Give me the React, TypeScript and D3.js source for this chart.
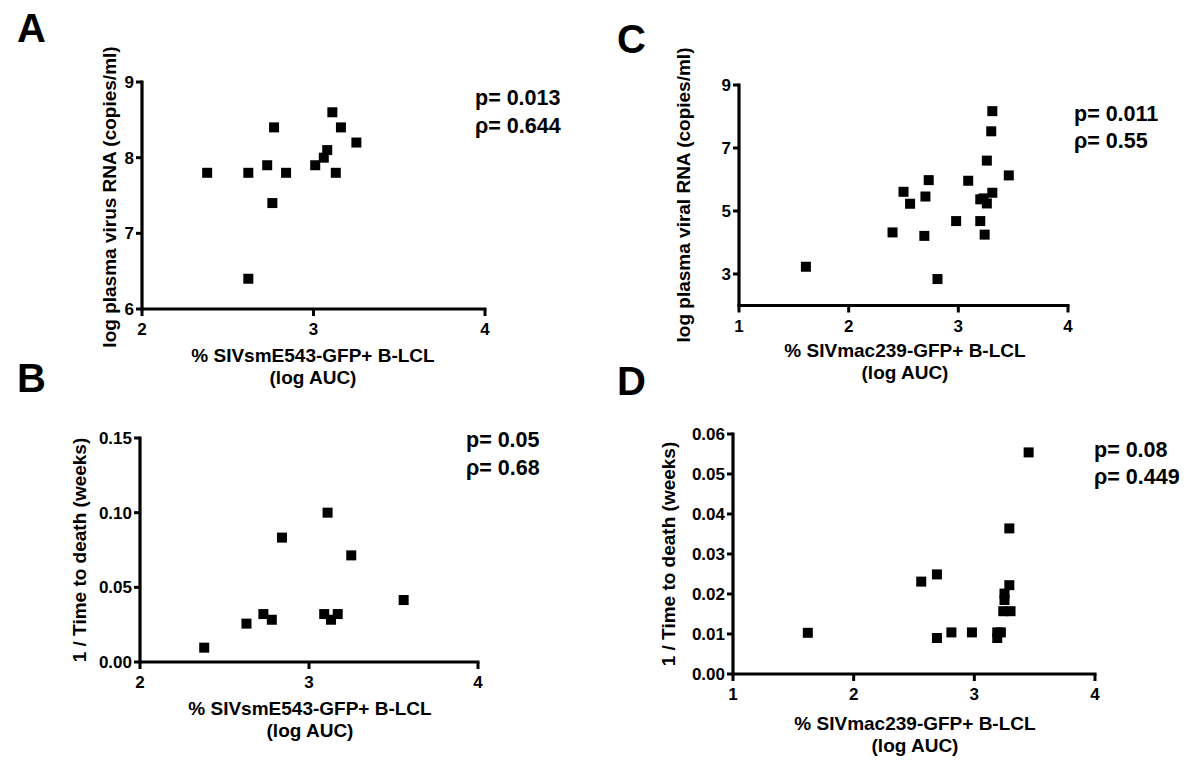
import React from "react";
import * as d3 from "d3";

// ---------- DATA ----------
// Panel A: SIVsmE543 vs log plasma virus RNA
const aX = [2.38, 2.62, 2.62, 2.73, 2.77, 2.76, 2.84, 3.01, 3.06, 3.08, 3.11, 3.13, 3.16, 3.25];
const aY = [7.8, 7.8, 6.4, 7.9, 8.4, 7.4, 7.8, 7.9, 8.0, 8.1, 8.6, 7.8, 8.4, 8.2];
// Panel B: SIVsmE543 vs 1/time to death
const bX = [2.38, 2.63, 2.73, 2.78, 2.84, 3.09, 3.11, 3.13, 3.17, 3.25, 3.56];
const bY = [0.0096, 0.0257, 0.0321, 0.0283, 0.0833, 0.0321, 0.1, 0.0283, 0.0321, 0.0714, 0.0415];
// Panel C: SIVmac239 vs log plasma viral RNA
const cX = [1.61, 2.4, 2.5, 2.56, 2.7, 2.69, 2.73, 2.81, 2.98, 3.09, 3.2, 3.2, 3.23, 3.26, 3.24, 3.26, 3.3, 3.31, 3.31, 3.46];
const cY = [3.23, 4.32, 5.61, 5.23, 5.46, 4.21, 5.98, 2.84, 4.68, 5.96, 4.68, 5.37, 5.4, 5.24, 4.25, 6.6, 7.53, 8.17, 5.58, 6.13];
// Panel D: SIVmac239 vs 1/time to death
const dX = [1.62, 2.56, 2.69, 2.69, 2.81, 2.98, 3.19, 3.19, 3.22, 3.24, 3.3, 3.25, 3.25, 3.29, 3.29, 3.45];
const dY = [0.0103, 0.0231, 0.0249, 0.009, 0.0104, 0.0104, 0.009, 0.0104, 0.0104, 0.0157, 0.0157, 0.0185, 0.0201, 0.0222, 0.0364, 0.0554];

const panelLetters = ["A", "B", "C", "D"];
const yTitles = [
  "log plasma virus RNA (copies/ml)",
  "1 / Time to death (weeks)",
  "log plasma viral RNA (copies/ml)",
  "1 / Time to death (weeks)",
];
const xTitles = [
  "% SIVsmE543-GFP+ B-LCL",
  "% SIVsmE543-GFP+ B-LCL",
  "% SIVmac239-GFP+ B-LCL",
  "% SIVmac239-GFP+ B-LCL",
];
const xTitle2 = "(log AUC)";
const pTexts = ["p= 0.013", "p= 0.05", "p= 0.011", "p= 0.08"];
const rhoTexts = ["\u03C1= 0.644", "\u03C1= 0.68", "\u03C1= 0.55", "\u03C1= 0.449"];
const xDomains = [[2, 4], [2, 4], [1, 4], [1, 4]];
const yDomains = [[6, 9], [0, 0.15], [2, 9], [0, 0.06]];
const xTickVals = [[2, 3, 4], [2, 3, 4], [1, 2, 3, 4], [1, 2, 3, 4]];
const yTickVals = [[6, 7, 8, 9], [0, 0.05, 0.1, 0.15], [3, 5, 7, 9], [0, 0.01, 0.02, 0.03, 0.04, 0.05, 0.06]];
const yFormats = ["d", ".2f", "d", ".2f"];

// ---------- LAYOUT ----------
const layouts = [
  { x0: 142, x1: 485, y0: 309, y1: 82, letter: [17, 42], yt: [109, 197], xt: [313, 355, 377], stat: [475, 105, 133] },
  { x0: 140, x1: 478, y0: 662, y1: 438, letter: [17, 392], yt: [79, 550], xt: [310, 708, 730], stat: [466, 447, 475] },
  { x0: 739, x1: 1068, y0: 305.5, y1: 85, letter: [617, 53], yt: [683, 195], xt: [905, 350, 372], stat: [1074, 121, 148] },
  { x0: 733, x1: 1095, y0: 674, y1: 434, letter: [617, 395], yt: [668, 554], xt: [915, 723, 745], stat: [1094, 457, 484] },
];
const datasets = [[aX, aY], [bX, bY], [cX, cY], [dX, dY]];

const FONT = "'Liberation Sans', Arial, Helvetica, sans-serif";
const TICK = 6;
const SQ = 10;

function Panel({ i }: { i: number }) {
  const L = layouts[i];
  const x = d3.scaleLinear().domain(xDomains[i]).range([L.x0, L.x1]);
  const y = d3.scaleLinear().domain(yDomains[i]).range([L.y0, L.y1]);
  const fmt = d3.format(yFormats[i]);
  const [xs, ys] = datasets[i];
  const pts = xs.map((v, k) => [v, ys[k]]);
  return (
    <g fontFamily={FONT} fontWeight="bold" fill="#000">
      <text x={L.letter[0]} y={L.letter[1]} fontSize={40}>{panelLetters[i]}</text>
      {/* axes */}
      <line x1={L.x0} x2={L.x0} y1={y.range()[0] + 1.5} y2={y.range()[1] - 1.5} stroke="#000" strokeWidth={3.2} />
      <line x1={L.x0 - 1.5} x2={L.x1 + 1.5} y1={L.y0} y2={L.y0} stroke="#000" strokeWidth={3.2} />
      {yTickVals[i].map((t) => (
        <g key={"y" + t}>
          <line x1={L.x0 - TICK} x2={L.x0} y1={y(t)} y2={y(t)} stroke="#000" strokeWidth={3} />
          <text x={L.x0 - TICK - 2} y={y(t)} dy="0.36em" textAnchor="end" fontSize={17}>{fmt(t)}</text>
        </g>
      ))}
      {xTickVals[i].map((t) => (
        <g key={"x" + t}>
          <line x1={x(t)} x2={x(t)} y1={L.y0} y2={L.y0 + TICK + 1} stroke="#000" strokeWidth={3} />
          <text x={x(t)} y={L.y0 + TICK + 20} textAnchor="middle" fontSize={17}>{t}</text>
        </g>
      ))}
      {/* titles */}
      <text transform={`translate(${L.yt[0]},${L.yt[1]}) rotate(-90)`} textAnchor="middle" dy="0.35em" fontSize={19}>{yTitles[i]}</text>
      <text x={L.xt[0]} y={L.xt[1]} dy="0.35em" textAnchor="middle" fontSize={19}>{xTitles[i]}</text>
      <text x={L.xt[0]} y={L.xt[2]} dy="0.35em" textAnchor="middle" fontSize={19}>{xTitle2}</text>
      {/* stats */}
      <text x={L.stat[0]} y={L.stat[1]} fontSize={21.5}>{pTexts[i]}</text>
      <text x={L.stat[0]} y={L.stat[2]} fontSize={21.5}>{rhoTexts[i]}</text>
      {/* points */}
      {pts.map((p, k) => (
        <rect key={k} x={x(p[0]) - SQ / 2} y={y(p[1]) - SQ / 2} width={SQ} height={SQ} fill="#000" />
      ))}
    </g>
  );
}

export default function App() {
  return (
    <svg width={1200} height={770} style={{ position: "absolute", left: 0, top: 0, background: "#fff" }}>
      <rect width={1200} height={770} fill="#fff" />
      {[0, 1, 2, 3].map((i) => <Panel key={i} i={i} />)}
    </svg>
  );
}
